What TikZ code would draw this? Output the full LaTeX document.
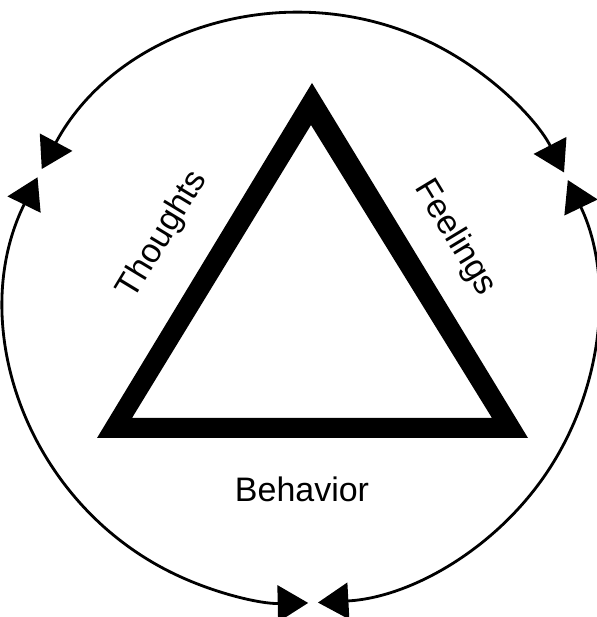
\documentclass[tikz,border=0pt]{standalone}
\usepackage{fontspec}
\setmainfont{Liberation Sans}
\usetikzlibrary{arrows.meta,calc}

\begin{document}
\begin{tikzpicture}[x=0.03cm,y=0.03cm,
    lbl/.style={font=\fontsize{29}{34}\selectfont,inner sep=0pt},
    cyc/.style={line width=2.4pt,{Triangle[length=26pt,width=31pt]}-{Triangle[length=26pt,width=31pt]}}]
  \useasboundingbox (0,0) rectangle (597,617);
  % triangle: outer and inner corners
  \coordinate (outL) at (97,179); \coordinate (outT) at (312,534); \coordinate (outR) at (528,179);
  \coordinate (inL) at (132,199); \coordinate (inT) at (311,492); \coordinate (inR) at (492,199);
  \fill[even odd rule] (outL)--(outT)--(outR)--cycle (inL)--(inT)--(inR)--cycle;
  \node[lbl,rotate=58.8] (thoughts) at (163,382) {Thoughts};
  \node[lbl,rotate=-58.8] (feelings) at (455,379) {Feelings};
  \node[lbl] (behavior) at (302,128) {Behavior};
  % cycle arcs round the triangle
  \coordinate (o) at (302,309);
  \coordinate (topL) at ($(o)+(151.9:8.85cm)$);
  \coordinate (sideL) at ($(o)+(153.7:8.85cm)$);
  \coordinate (sideR) at ($(o)+(25.7:8.85cm)$);
  \draw[cyc] (topL) arc[start angle=151.9,end angle=27.35,radius=8.85cm];
  \draw[cyc] (sideL) arc[start angle=153.7,end angle=271.2,radius=8.85cm];
  \draw[cyc] (sideR) arc[start angle=25.7,end angle=-86.9,radius=8.85cm];
\end{tikzpicture}
\end{document}
